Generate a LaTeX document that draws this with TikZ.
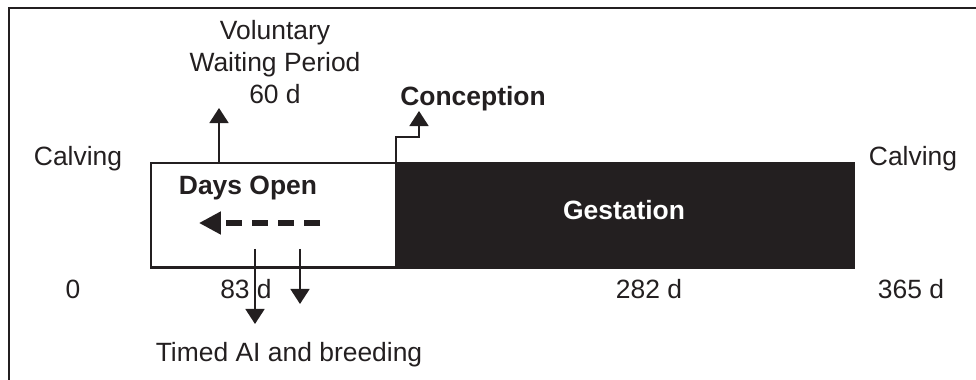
\documentclass[tikz,border=0pt]{standalone}
\usepackage{fontspec}
\setmainfont{Liberation Sans}
\usetikzlibrary{arrows.meta,positioning}
\definecolor{ink}{HTML}{231F20}
\tikzset{lbl/.style={font=\fontsize{18.8}{22.8}\selectfont,align=center,inner sep=0pt,text=ink},
  boldlbl/.style={lbl,font=\fontsize{18.8}{22.8}\selectfont\bfseries},
  period/.style={draw=ink,line width=2.1pt,anchor=north west,minimum height=2.6cm,
    inner sep=0pt,outer sep=0pt},
  flow/.style={-{Triangle[length=10.7pt,width=13.5pt]},line width=1.4pt,draw=ink},
  back/.style={-{Triangle[length=15.6pt,width=15.6pt]},line width=3.6pt,draw=ink,
    dash pattern=on 11.4pt off 7.1pt}}

\begin{document}
\begin{tikzpicture}[x=0.025cm,y=-0.025cm]
\useasboundingbox (0,0) rectangle (976,380);
\draw[ink,line width=1.1pt] (9,380) |- (976,8);
% the cycle bar
\node[period,minimum width=6.125cm] (open) at (151,163) {};
\node[period,fill=ink,minimum width=11.425cm] (gest) at (open.north east) {};
\node[boldlbl] (daysopen) at (248,188) {Days Open};
\node[boldlbl,text=white] (gestation) at (624,210) {Gestation};
% labels round it
\node[lbl] (calvL) at (78,159) {Calving};
\node[lbl] (calvR) at (913,159) {Calving};
\node[lbl] (day0) at (73,289) {0};
\node[lbl] (day83) at (246,289) {83 d};
\node[lbl] (day282) at (649,289) {282 d};
\node[lbl] (day365) at (911,289) {365 d};
\node[lbl] (vwp) at (275,62) {Voluntary\\Waiting Period\\60 d};
\node[boldlbl] (conception) at (473,99) {Conception};
\node[lbl] (timedai) at (289,355) {Timed AI and breeding};
% arrows
\coordinate (vwptip) at (219,108);
\draw[flow] (vwptip |- open.north) -- (vwptip);
\coordinate (concknee) at (396,137);
\coordinate (conctip) at (419,111);
\draw[flow] (open.north east) -- (open.north east |- concknee) -| (conctip);
\coordinate (doend) at (320,223);
\coordinate (dotip) at (199,223);
\draw[back] (doend) -- (dotip);
\coordinate (aiA) at (255,249);
\coordinate (aiAtip) at (255,324);
\coordinate (aiB) at (300,249);
\coordinate (aiBtip) at (300,304);
\draw[flow] (aiA) -- (aiAtip);
\draw[flow] (aiB) -- (aiBtip);
\end{tikzpicture}
\end{document}
